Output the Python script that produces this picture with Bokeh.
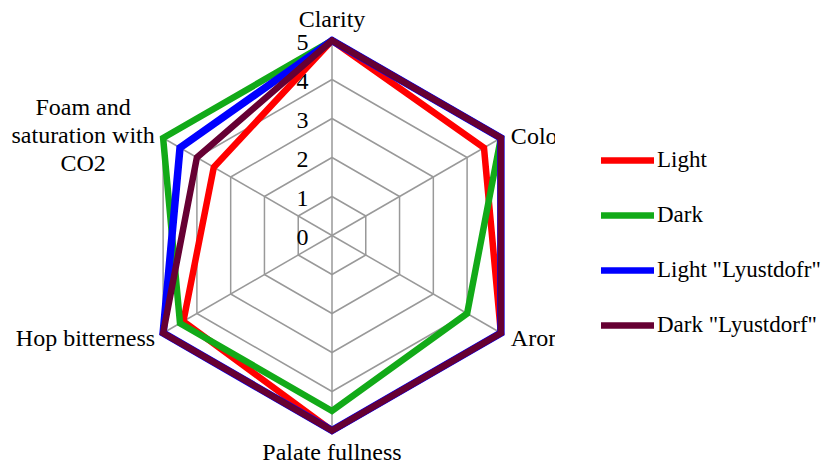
import numpy as np
from bokeh.plotting import figure
from bokeh.layouts import row
from bokeh.models import Range1d, Legend, LegendItem, ColumnDataSource
from bokeh.core.properties import value
from bokeh.embed import file_html
from bokeh.resources import INLINE

# ---- data ----
categories = ["Clarity", "Color", "Aroma", "Palate fullness", "Hop bitterness",
              "Foam and\nsaturation with\nCO2"]
levels = [0, 1, 2, 3, 4, 5]
series_names = ["Light", "Dark", 'Light "Lyustdofr"', 'Dark "Lyustdorf"']
light = [5, 4.5, 5, 5, 4.4, 3.5]
dark = [5, 5, 4, 4.5, 4.5, 5]
light_lyustdorf = [5, 5, 5, 5, 5, 4.5]
dark_lyustdorf = [5, 5, 5, 5, 5, 4]
series = [light, dark, light_lyustdorf, dark_lyustdorf]
colors = ["#ff0000", "#12aa18", "#0000ff", "#660033"]

# ---- geometry / style ----
n = len(categories)
angles = np.deg2rad(90 - 360.0 / n * np.arange(n))
max_level = levels[-1]
UNIT = 39.0
H = 465
W1, W2 = 555, 274
cx, cy = 331.5, 235.0
FONT = "Liberation Serif"
FS = "24px"
grid_color = "#999999"
widths = [6.5, 6.5, 7.5, 6.5]

p = figure(width=W1, height=H, output_backend="svg", toolbar_location=None,
           x_axis_type=None, y_axis_type=None,
           x_range=Range1d(-cx / UNIT, (W1 - cx) / UNIT),
           y_range=Range1d(-(H - cy) / UNIT, cy / UNIT),
           min_border=0)
p.grid.visible = False
p.outline_line_color = None

cosv, sinv = np.cos(angles), np.sin(angles)

# rings
for lv in levels[1:]:
    xs = list(lv * cosv) + [lv * cosv[0]]
    ys = list(lv * sinv) + [lv * sinv[0]]
    p.line(xs, ys, line_color=grid_color, line_width=1.5)
# spokes
p.segment(x0=[0] * n, y0=[0] * n, x1=list(max_level * cosv), y1=list(max_level * sinv),
          line_color=grid_color, line_width=1.5)

# level labels
p.text(x=[0] * len(levels), y=levels, text=[str(l) for l in levels],
       x_offset=-29.5, y_offset=2, text_align="center", text_baseline="middle",
       text_font=value(FONT), text_font_size=FS, text_color="black")

# series
for vals, c, w in zip(series, colors, widths):
    v = np.array(vals, dtype=float)
    xs = list(v * cosv) + [v[0] * cosv[0]]
    ys = list(v * sinv) + [v[0] * sinv[0]]
    p.line(xs, ys, line_color=c, line_width=w, line_join="miter", line_cap="round")

# category labels
lab = ColumnDataSource(dict(
    x=list(max_level * cosv), y=list(max_level * sinv), text=categories,
    xo=[0, 10, 10, 0, -8, -80], yo=[-22, -2, 5, 21, 5, -3],
    align=["center", "left", "left", "center", "right", "center"]))
p.text(x="x", y="y", text="text", x_offset="xo", y_offset="yo", text_align="align",
       text_baseline="middle", text_font=value(FONT), text_font_size=FS,
       text_color="black", text_line_height=1.07, source=lab)

# legend panel
q = figure(width=W2, height=H, output_backend="svg", toolbar_location=None,
           x_axis_type=None, y_axis_type=None,
           x_range=Range1d(0, 1), y_range=Range1d(0, 1), min_border=0)
q.grid.visible = False
q.outline_line_color = None
proxies = [q.line(x=[np.nan], y=[np.nan], line_color=c, line_width=6.5, line_cap="round")
           for c in colors]
legend = Legend(items=[LegendItem(label=value(nm), renderers=[r])
                       for nm, r in zip(series_names, proxies)],
                location=(46, 126), orientation="vertical",
                glyph_width=53, glyph_height=28, label_height=28, label_standoff=3,
                spacing=27, padding=0, margin=0,
                border_line_alpha=0, background_fill_alpha=0,
                label_text_font=FONT, label_text_font_size="23px",
                label_text_color="black")
q.add_layout(legend)

layout = row(p, q, spacing=0)
open("out.html", "w").write(file_html(layout, INLINE))
